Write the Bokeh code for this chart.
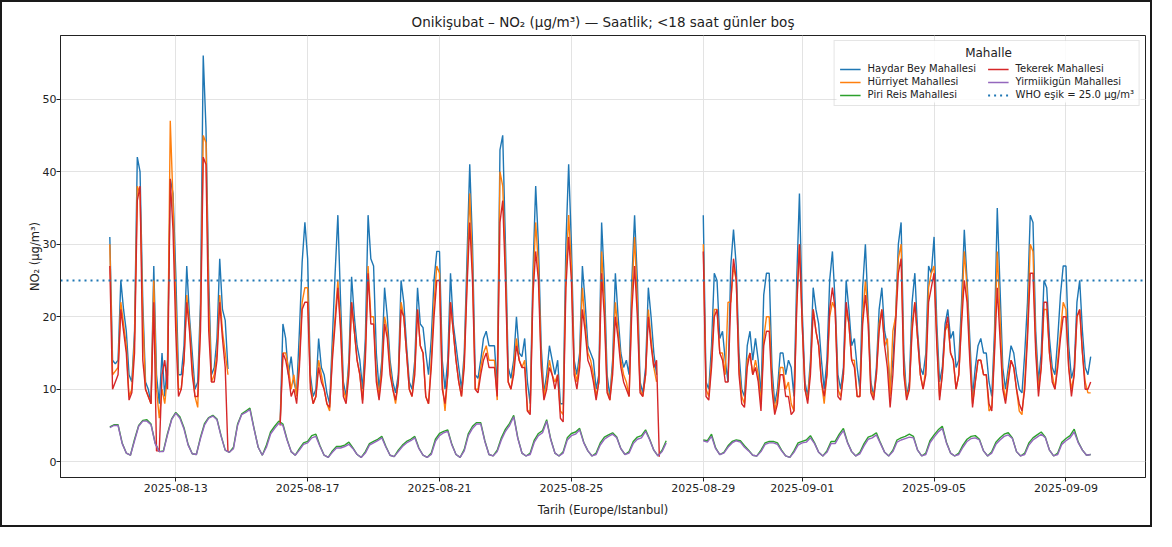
import numpy as np
import pandas as pd
from bokeh.plotting import figure
from bokeh.models import Range1d, FixedTicker, DatetimeTickFormatter, Label, BoxAnnotation
from bokeh.embed import file_html
from bokeh.resources import INLINE

TITLE = "Onikişubat – NO₂ (µg/m³) — Saatlik; <18 saat günler boş"
X_LABEL = "Tarih (Europe/Istanbul)"
Y_LABEL = "NO₂ (µg/m³)"
LEGEND_TITLE = "Mahalle"
WHO = 25.0
FIRST_DAY = "2025-08-11"
LAST_DAY = "2025-09-09"
UPPER_HOURS = [0, 2, 4, 6, 8, 10, 12, 14, 16, 18, 20, 22]
LOWER_HOURS = [0, 3, 6, 9, 12, 15, 18, 21]
X_TICKS = ["2025-08-13", "2025-08-17", "2025-08-21", "2025-08-25",
           "2025-08-29", "2025-09-01", "2025-09-05", "2025-09-09"]
Y_TICKS = [0, 10, 20, 30, 40, 50]

n = float("nan")
N12 = [n] * 12

# Haydar Bey Mahallesi (one row per day, 2-hourly)
HAYDAR = [
    [31, 14, 13.5, 14, 25, 21, 18, 12, 11, 18, 42, 40],
    [22, 11, 10, 8, 27, 12, 8, 15, 9, 14, 39, 37],
    [26, 12, 12, 16, 27, 20, 15, 10, 11, 22, 56, 46],
    [25, 12, 13, 17, 28, 21, 19.5, 12.8, n, n, n, n],
    N12,
    [n, n, 5.5, 19, 17, 12, 14.5, 11, 9.5, 18, 27.5, 33],
    [28, 12, 9, 10, 17, 13, 12, 9.5, 8, 17, 26, 34],
    [22, 11, 9, 14, 25.5, 20, 16, 14, 10, 17, 34, 28],
    [27, 15, 10, 14, 24, 20, 14, 11, 9.5, 12, 25, 22],
    [16, 11, 10, 14, 24, 19, 18.5, 15, 12, 17, 25, 29],
    [29, 14, 10, 14, 26, 19, 16, 13, 10, 15, 28, 41],
    [30, 12, 11.5, 14, 17, 18, 16, 16, 16, 10, 43, 45],
    [30, 13, 11.5, 14, 20, 15, 14.5, 17, 11, 8, 26, 38],
    [30, 16, 9.5, 12, 16, 14, 12, 14, 8, 8, 30, 41],
    [30, 14, 12, 15, 27, 22, 16, 15, 14, 10, 12, 33],
    [25, 12, 9, 14, 26, 20, 15, 13, 14, 12, 25, 34],
    [25, 11, 9.5, 13, 24, 20, 15, 12, n, n, n, n],
    N12,
    [34, 11, 10, 16, 26, 25, 17, 18, 14, 11, 27, 32],
    [27, 15, 10, 9, 16, 18, 14, 17, 14, 9, 23, 26],
    [26, 13, 8, 10, 15, 15, 12, 14, 13, 9, 25, 37],
    [21, 11, 9, 14, 24, 21, 19, 14, 10, 14, 25, 29],
    [22, 12, 10, 13, 25, 21, 16, 17, 13, 10, 24, 30],
    [21, 11, 9, 13, 21, 24, 18, 16, 10, 14, 20, 30],
    [33, 15, 9, 11, 22, 26, 18, 13, 12, 15, 27, 26],
    [31, 19, 11, 13, 19, 21, 17, 18, 13, 14, 22, 32],
    [25, 17, 9, 13, 16, 17, 15, 15, 11, 9, 18, 35],
    [24, 13, 10, 13, 16, 15, 12, 10, 9.5, 15, 22, 34],
    [33, 18, 11, 15, 25, 24, 17, 13, 12, 17, 23, 27],
    [27, 16, 11.5, 13, 22, 25, 18, 13, 12, 14.5, n, n],
]

# Hürriyet Mahallesi
HURRIYET = [
    [30, 12, 12.5, 13, 22, 19, 16, 9, 10, 17, 38, 37],
    [20, 10, 9, 8, 25, 10, 6, 10, 8, 12, 47, 36],
    [22, 10, 10, 14, 23, 19, 13, 9, 7.5, 20, 45, 44],
    [22, 11, 12, 15, 23, 18, 15, 12, n, n, n, n],
    N12,
    [n, n, 5.5, 15, 15, 13, 10, 12, 9, 14, 22, 24],
    [24, 11, 8, 9, 14, 12, 10, 8, 7, 15, 20, 25],
    [19, 10, 8.5, 13, 22, 18, 14, 12, 8.5, 15, 27, 20],
    [20, 12, 9, 13, 20, 18, 13, 10, 8, 11, 22, 20],
    [15, 10, 9, 13, 21, 16, 15, 9, 8, 14, 22, 27],
    [26, 11, 7, 12, 22, 18, 14, 11, 9, 14, 25, 37],
    [27, 10, 10, 13, 15, 16, 14, 14, 14, 8.5, 40, 38],
    [27, 11, 10, 13, 17, 14, 13, 14, 7, 7, 24, 33],
    [27, 14, 9, 11, 14, 12, 11, 12, 7, 6.5, 26, 34],
    [27, 13, 11, 14, 24, 19, 15, 14, 12, 9, 11, 29],
    [22, 10, 8.5, 13, 22, 18, 14, 12, 11, 9, 23, 31],
    [22, 10, 9, 12, 21, 17, 13, 11, n, n, n, n],
    N12,
    [30, 10, 9, 14, 21, 21, 15, 15, 12, 22, 22, 27],
    [25, 13, 9, 8, 14, 15, 12, 14, 12, 8, 17, 20],
    [20, 11, 7, 9, 13, 13, 10, 11, 8, 7, 22, 30],
    [19, 10, 8.5, 13, 21, 18, 16, 11, 8, 12, 20, 22],
    [21, 10, 9, 12, 21, 19, 14, 14, 9, 9, 20, 25],
    [20, 10, 9, 12, 19, 21, 16, 17, 9, 18, 20, 28],
    [30, 13, 9, 10, 19, 22, 17, 12, 10, 13, 24, 26],
    [27, 17, 9, 12, 18, 19, 15, 14, 10, 12, 20, 29],
    [24, 15, 8, 11, 14, 14, 12, 12, 7, 7.5, 16, 29],
    [20, 11, 8.5, 12, 14, 13, 10, 7, 6.5, 11, 18, 30],
    [29, 16, 10, 13, 21, 21, 15, 12, 10, 14, 18, 22],
    [21, 13, 10, 12, 20, 21, 15, 11, 9.5, 9.5, n, n],
]

# Tekerek Mahallesi
TEKEREK = [
    [27, 10, 11, 12, 21, 18, 15, 8.5, 9.5, 15, 36, 38],
    [14, 10, 9, 8, 22, 1.5, 1.5, 12, 14, 10, 39, 32],
    [18, 9, 10, 14, 22, 18, 12, 9, 9, 18, 42, 41],
    [18, 11, 11, 14, 22, 17, 13, 1.4, n, n, n, n],
    N12,
    [n, n, 5, 15, 14, 12, 9, 10, 8, 13, 21, 22],
    [22, 10, 8, 9, 13, 11, 10, 8, 7.5, 14, 19, 24],
    [18, 9, 8, 12, 22, 18, 14, 12, 8, 14, 26, 19],
    [19, 11, 8.5, 12, 19, 17, 12, 10, 8.5, 11, 21, 20],
    [15, 10, 9, 12, 21, 16, 15, 9, 8, 13, 20, 25],
    [25, 10, 8, 12, 22, 18, 14, 11, 9, 13, 24, 33],
    [25, 10, 9.5, 12, 14, 15, 13, 13, 13, 9, 33, 36],
    [25, 11, 10, 12, 16, 14, 13, 13, 7, 6.5, 23, 29],
    [25, 13, 8.5, 10, 13, 12, 10, 12, 6, 5.5, 24, 31],
    [25, 12, 10, 13, 21, 18, 14, 13, 11, 8.5, 11, 26],
    [20, 9.5, 8.5, 12, 20, 17, 13, 11, 10, 9, 21, 27],
    [20, 9.5, 9, 12, 20, 16, 13, 14, 0.7, n, n, n],
    N12,
    [29, 9, 8.5, 13, 20, 21, 15, 14, 11, 11, 22, 28],
    [25, 12, 8, 7.5, 13, 15, 12, 13, 11, 7, 16, 18],
    [18, 10, 6.5, 8, 12, 12, 9, 9, 6.5, 7, 21, 30],
    [19, 10, 8, 12, 21, 18, 16, 11, 9, 12, 21, 24],
    [21, 9, 8.5, 12, 22, 19, 14, 13, 9, 9, 19, 23],
    [19, 9.5, 8.5, 12, 18, 21, 16, 13, 7.5, 12, 19, 26],
    [28, 12, 8.5, 10, 18, 22, 17, 12, 10, 12, 22, 24],
    [26, 16, 8.5, 12, 18, 20, 15, 14, 10, 12, 19, 25],
    [22, 14, 7.5, 11, 14, 14, 12, 12, 8, 7, 15, 24],
    [17, 10, 8, 11, 14, 13, 10, 8, 7, 10, 17, 26],
    [26, 15, 9, 13, 22, 22, 15, 11, 10, 13, 17, 20],
    [20, 13, 9, 12, 20, 21, 15, 10, 10, 11, n, n],
]

N8 = [n] * 8
# Piri Reis Mahallesi (one row per day, 3-hourly)
PIRIREIS = [
    [4.8, 5.1, 5.1, 2.6, 1.2, 0.9, 3.1, 5.0],
    [5.7, 5.8, 5.2, 2.6, 1.4, 1.5, 3.9, 5.9],
    [6.8, 6.2, 4.7, 2.4, 1.1, 1.0, 3.4, 5.3],
    [6.1, 6.4, 5.9, 3.6, 1.6, 1.3, 2.0, 5.2],
    [6.6, 7.0, 7.4, 4.6, 2.0, 0.9, 2.3, 4.1],
    [4.9, 5.6, 5.2, 3.1, 1.4, 0.9, 1.8, 2.6],
    [2.8, 3.6, 3.8, 2.2, 0.9, 0.6, 1.5, 2.1],
    [2.1, 2.3, 2.7, 1.9, 1.0, 0.6, 1.4, 2.5],
    [2.8, 3.1, 3.5, 2.1, 0.9, 0.7, 1.6, 2.3],
    [2.8, 3.1, 3.5, 1.9, 0.9, 0.6, 1.2, 3.1],
    [3.9, 4.2, 4.4, 2.4, 1.0, 0.6, 1.7, 3.9],
    [4.9, 5.4, 5.4, 2.9, 1.0, 0.8, 1.6, 3.3],
    [4.5, 5.3, 6.4, 3.3, 1.2, 0.8, 1.2, 3.0],
    [3.9, 4.3, 5.8, 3.1, 1.2, 0.8, 1.4, 3.3],
    [3.9, 4.1, 4.6, 2.7, 1.5, 0.8, 1.2, 2.6],
    [3.4, 3.7, 4.0, 3.4, 1.8, 1.0, 1.4, 2.8],
    [3.4, 3.6, 4.4, 3.1, 1.6, 0.8, 1.6, 2.9],
    N8,
    [3.0, 2.9, 3.8, 1.9, 1.0, 1.3, 2.2, 2.8],
    [3.0, 2.9, 2.2, 1.6, 0.9, 0.8, 1.6, 2.6],
    [2.8, 2.8, 2.6, 1.6, 0.8, 0.6, 1.5, 2.6],
    [2.8, 3.0, 3.6, 2.6, 1.3, 0.8, 1.5, 2.8],
    [2.8, 3.8, 4.6, 2.7, 1.4, 0.8, 1.3, 2.5],
    [3.4, 3.6, 4.0, 2.6, 1.3, 0.8, 1.6, 3.0],
    [3.3, 3.5, 3.8, 3.5, 1.6, 0.8, 1.2, 2.9],
    [3.7, 4.4, 4.9, 2.7, 1.2, 0.8, 1.2, 2.3],
    [3.1, 3.5, 3.6, 3.1, 1.5, 0.8, 1.4, 2.7],
    [3.3, 3.8, 4.0, 3.3, 1.4, 0.8, 1.2, 2.6],
    [3.3, 3.7, 4.1, 3.4, 1.6, 0.8, 1.2, 2.7],
    [3.2, 3.6, 4.5, 2.7, 1.6, 0.9, 1.0, n],
]

# Yirmiikigün Mahallesi
YIRMIIKIGUN = [
    [4.7, 5.0, 5.0, 2.5, 1.2, 0.9, 2.9, 4.9],
    [5.6, 5.6, 5.1, 2.5, 1.4, 1.4, 3.7, 5.8],
    [6.7, 6.0, 4.5, 2.3, 1.1, 1.0, 3.2, 5.1],
    [6.0, 6.3, 5.8, 3.5, 1.6, 1.3, 1.8, 5.0],
    [6.5, 6.8, 7.2, 4.5, 2.0, 0.9, 2.0, 3.8],
    [4.6, 5.3, 5.0, 3.0, 1.4, 0.9, 1.6, 2.4],
    [2.6, 3.3, 3.5, 2.1, 0.9, 0.6, 1.3, 1.9],
    [1.9, 2.1, 2.4, 1.8, 1.0, 0.6, 1.2, 2.3],
    [2.6, 2.9, 3.3, 2.0, 0.9, 0.7, 1.4, 2.1],
    [2.6, 2.9, 3.3, 1.8, 0.9, 0.6, 1.0, 2.8],
    [3.6, 4.0, 4.2, 2.3, 1.0, 0.6, 1.5, 3.6],
    [4.6, 5.2, 5.2, 2.8, 1.0, 0.8, 1.4, 3.0],
    [4.2, 5.0, 6.2, 3.2, 1.2, 0.8, 1.0, 2.7],
    [3.6, 4.0, 5.6, 3.0, 1.2, 0.8, 1.2, 3.0],
    [3.6, 3.8, 4.4, 2.6, 1.5, 0.8, 1.0, 2.3],
    [3.1, 3.5, 3.8, 3.3, 1.8, 1.0, 1.2, 2.5],
    [3.1, 3.3, 4.2, 3.0, 1.6, 0.8, 1.4, 2.6],
    N8,
    [2.9, 2.7, 3.5, 1.8, 1.0, 1.2, 2.0, 2.6],
    [2.9, 2.7, 2.0, 1.5, 0.9, 0.8, 1.4, 2.4],
    [2.6, 2.6, 2.4, 1.5, 0.8, 0.6, 1.3, 2.3],
    [2.6, 2.7, 3.3, 2.5, 1.3, 0.8, 1.3, 2.5],
    [2.5, 3.5, 4.3, 2.6, 1.4, 0.8, 1.1, 2.2],
    [3.1, 3.3, 3.7, 2.5, 1.3, 0.8, 1.4, 2.7],
    [3.0, 3.2, 3.4, 3.3, 1.6, 0.8, 1.0, 2.6],
    [3.4, 4.1, 4.6, 2.6, 1.2, 0.8, 1.0, 2.0],
    [2.8, 3.2, 3.3, 3.0, 1.5, 0.8, 1.2, 2.4],
    [3.0, 3.5, 3.7, 3.2, 1.4, 0.8, 1.0, 2.3],
    [3.0, 3.4, 3.8, 3.3, 1.6, 0.8, 1.0, 2.4],
    [2.9, 3.3, 4.1, 2.6, 1.6, 0.9, 1.0, n],
]

SERIES = [
    ("Haydar Bey Mahallesi", HAYDAR, UPPER_HOURS, "#1f77b4"),
    ("Hürriyet Mahallesi", HURRIYET, UPPER_HOURS, "#ff7f0e"),
    ("Piri Reis Mahallesi", PIRIREIS, LOWER_HOURS, "#2ca02c"),
    ("Tekerek Mahallesi", TEKEREK, UPPER_HOURS, "#d62728"),
    ("Yirmiikigün Mahallesi", YIRMIIKIGUN, LOWER_HOURS, "#9467bd"),
]

days = pd.date_range(FIRST_DAY, LAST_DAY, freq="D")


def flatten(rows, hours):
    xs, ys = [], []
    for d, row in zip(days, rows):
        for h, v in zip(hours, row):
            xs.append(d + pd.Timedelta(hours=h))
            ys.append(float(v))
    return xs, ys


FONT = "DejaVu Sans"
TXT = "#222222"

W, H = 1152, 527
BL, BR, BT, BB = 58, 9, 33, 52
FRAME_W = W - BL - BR
FRAME_H = H - BT - BB

p = figure(width=W, height=H, x_axis_type="datetime",
           output_backend="svg", toolbar_location=None,
           min_border_left=BL, min_border_right=BR,
           min_border_top=BT, min_border_bottom=BB)

all_t, all_v = [], []
for name, rows, hours, color in SERIES:
    xs, ys = flatten(rows, hours)
    all_t += xs
    all_v += [v for v in ys if not np.isnan(v)]
    p.line(xs, ys, line_color=color, line_width=1.4, legend_label=name)

tmin = min(all_t).value / 1e6
tmax = max(all_t).value / 1e6
pad_t = 0.05 * (tmax - tmin)
p.x_range = Range1d(tmin - pad_t, tmax + pad_t)
vmin, vmax = min(all_v), max(all_v)
pad_v = 0.05 * (vmax - vmin)
p.y_range = Range1d(vmin - pad_v, vmax + pad_v)

# WHO threshold line across the whole x range
p.line([p.x_range.start, p.x_range.end], [WHO, WHO], line_color="#1f77b4",
       line_width=2, line_dash="2 4",
       legend_label=f"WHO eşik = {WHO:.1f} µg/m³")

# axes
tick_ms = [pd.Timestamp(t).value / 1e6 for t in X_TICKS]
p.xaxis.ticker = FixedTicker(ticks=tick_ms)
fmt = "%Y-%m-%d"
p.xaxis.formatter = DatetimeTickFormatter(days=fmt, months=fmt, hours=fmt,
                                          years=fmt, minutes=fmt)
p.yaxis.ticker = FixedTicker(ticks=Y_TICKS)
p.xaxis.axis_label = X_LABEL
p.yaxis.axis_label = Y_LABEL

for ax in (p.xaxis[0], p.yaxis[0]):
    ax.major_label_text_font = FONT
    ax.major_label_text_font_size = "11px"
    ax.major_label_text_color = TXT
    ax.axis_label_text_font = FONT
    ax.axis_label_text_font_size = "11.5px"
    ax.axis_label_text_font_style = "normal"
    ax.axis_label_text_color = TXT
    ax.axis_line_color = "#222222"
    ax.major_tick_line_color = "#222222"
    ax.major_tick_out = 4
    ax.major_tick_in = 0
    ax.minor_tick_line_color = None
    ax.major_label_standoff = 2
p.yaxis.major_label_standoff = 0
p.xaxis.axis_label_standoff = 8
p.yaxis.axis_label_standoff = -2

p.xgrid.grid_line_color = "#e3e3e3"
p.ygrid.grid_line_color = "#e3e3e3"
p.outline_line_color = "#222222"

p.title.text = TITLE
p.title.align = "center"
p.title.text_font = FONT
p.title.text_font_size = "13.5px"
p.title.text_font_style = "normal"
p.title.text_color = TXT
p.title.standoff = 12

# legend (two columns, top right)
LEG_MARGIN, LEG_PAD, LEG_SPACING = 5, 5, 2
LEG_GLYPH_W, LEG_STANDOFF, LEG_LABEL_W = 21, 7, 118
LEG_H = 62
leg = p.legend[0]
leg.title = "\u00a0"
leg.title_text_font_size = "12px"
leg.title_standoff = 3
leg.ncols = 2
leg.location = "top_right"
leg.margin = LEG_MARGIN
leg.padding = LEG_PAD
leg.spacing = LEG_SPACING
leg.glyph_width = LEG_GLYPH_W
leg.glyph_height = 10
leg.label_standoff = LEG_STANDOFF
leg.label_width = LEG_LABEL_W
leg.label_text_font = FONT
leg.label_text_font_size = "10px"
leg.label_text_color = TXT
leg.label_height = 11
leg.border_line_color = "#cccccc"
leg.background_fill_alpha = 0.0

leg_w = 2 * LEG_PAD + 2 * (LEG_GLYPH_W + LEG_STANDOFF + LEG_LABEL_W) + LEG_SPACING
leg_right = FRAME_W - LEG_MARGIN
leg_top = FRAME_H - LEG_MARGIN
# semi-opaque white backing behind the legend (above grid lines)
p.add_layout(BoxAnnotation(left=leg_right - leg_w, right=leg_right,
                           top=leg_top, bottom=leg_top - LEG_H,
                           left_units="screen", right_units="screen",
                           top_units="screen", bottom_units="screen",
                           fill_color="white", fill_alpha=0.85,
                           line_color=None, level="glyph"))
p.add_layout(Label(x=leg_right - leg_w / 2, y=leg_top - LEG_PAD - 7,
                   x_units="screen", y_units="screen", text=LEGEND_TITLE,
                   text_align="center", text_baseline="middle",
                   text_font=FONT, text_font_size="12px", text_color=TXT))

p.styles = {"border": "2px solid #1a1a1a"}

open("out.html", "w").write(file_html(p, INLINE))
